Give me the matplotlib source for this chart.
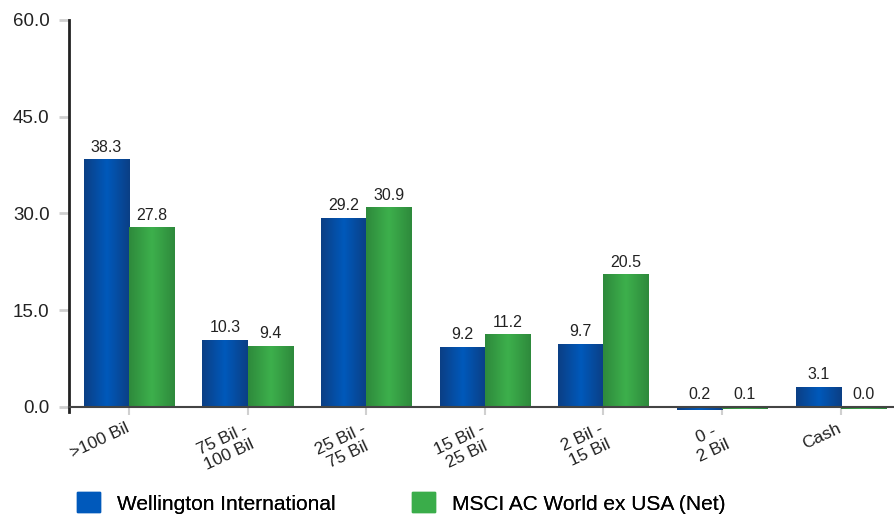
import matplotlib.pyplot as plt
import matplotlib.transforms as mtransforms
import numpy as np
from matplotlib.colors import LinearSegmentedColormap
from matplotlib.patches import Patch

# Chart data
categories = [">100 Bil", "75 Bil -\n100 Bil", "25 Bil -\n75 Bil", "15 Bil -\n25 Bil",
              "2 Bil -\n15 Bil", "0 -\n2 Bil", "Cash"]
wellington = [38.3, 10.3, 29.2, 9.2, 9.7, -0.2, 3.1]
msci = [27.8, 9.4, 30.9, 11.2, 20.5, -0.1, -0.0]
series_names = ["Wellington International", "MSCI AC World ex USA (Net)"]
y_ticks = [0, 15, 30, 45, 60]

plt.rcParams['font.family'] = ['Liberation Sans', 'DejaVu Sans']

blue_cmap = LinearSegmentedColormap.from_list("b", ["#0b3f85", "#0059bb", "#0b3f85"])
green_cmap = LinearSegmentedColormap.from_list("g", ["#2e8a3c", "#3db04c", "#2e8a3c"])

fig = plt.figure(figsize=(8.94, 5.18), dpi=100)
ymin = -0.7
ax = fig.add_axes([69 / 894, 1 - 411.5 / 518, 1 - 69 / 894, (411.5 - 20) / 518])

# spines first: moving a spine resets its axis ticks
for s in ['top', 'right']:
    ax.spines[s].set_visible(False)
ax.spines['left'].set_linewidth(2)
ax.spines['left'].set_color('#222222')
ax.spines['bottom'].set_position(('data', 0))
ax.spines['bottom'].set_linewidth(1.5)
ax.spines['bottom'].set_color('#444444')
ax.spines['bottom'].set_zorder(3)

x = np.arange(len(categories))
w = 0.38
grad = np.linspace(0, 1, 64).reshape(1, -1)

for vals, off, cmap in [(wellington, -w / 2, blue_cmap), (msci, w / 2, green_cmap)]:
    bars = ax.bar(x + off, vals, w, color='none', edgecolor='none')
    for b, v in zip(bars, vals):
        x0 = b.get_x()
        # small/zero values still shown as a thin strip below the axis
        h = v if v > 0 else min(v, -0.1) - 0.25
        ax.imshow(grad, cmap=cmap, extent=[x0, x0 + w, 0, h], aspect='auto', zorder=2)
        ax.text(x0 + w / 2, max(v, 0) + 0.8, f"{abs(v):.1f}", ha='center', va='bottom',
                fontsize=11.5, color='#222222')

ax.set_xlim(-0.505, 6.45)
ax.set_ylim(ymin, 60)
ax.set_yticks(y_ticks)
ax.set_yticklabels([f"{t:.1f}" for t in y_ticks], fontsize=13.5, color='#222222')
ax.tick_params(axis='y', length=7, width=2, color='#d0d0d0', pad=7)
ax.set_xticks(x)
ax.set_xticklabels(categories, rotation=25, ha='right', rotation_mode='anchor',
                   fontsize=12.5, color='#222222', multialignment='center')
ax.tick_params(axis='x', length=6, width=1.5, color='#d0d0d0', pad=4)
shift = mtransforms.ScaledTranslation(-4 / 100, 0, fig.dpi_scale_trans)
for lbl in ax.get_xticklabels():
    lbl.set_transform(lbl.get_transform() + shift)

colors = ["#0059bb", "#3aad4a"]
for name, c, xpos in zip(series_names, colors, [77, 412]):
    leg = fig.legend(handles=[Patch(color=c)], labels=[name], loc='center left',
                     bbox_to_anchor=(xpos / 894, 1 - 503 / 518), frameon=False,
                     fontsize=15, handlelength=1.1, handleheight=1.1,
                     handletextpad=0.8, borderpad=0, borderaxespad=0)
    fig.add_artist(leg)

fig.savefig("out.png", dpi=100)
